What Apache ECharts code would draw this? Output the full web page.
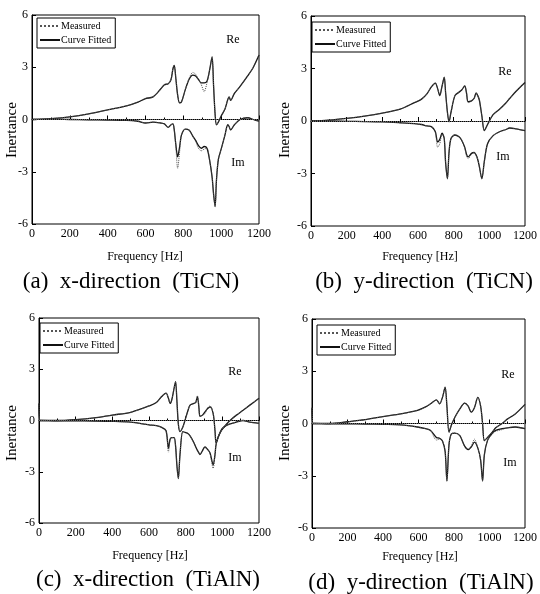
<!DOCTYPE html>
<html>
<head>
<meta charset="utf-8">
<script src="https://cdn.jsdelivr.net/npm/echarts@6/dist/echarts.min.js"></script>
<style>
html,body{margin:0;padding:0;background:#fff;}
#chart{width:540px;height:594px;}
</style>
</head>
<body>
<div id="chart"></div>
<script>
// ---------- Data ----------
const xTicks = [0, 200, 400, 600, 800, 1000, 1200];
const yTicks = [-6, -3, 0, 3, 6];
const panelTitles = ['(a)  x-direction  (TiCN)', '(b)  y-direction  (TiCN)', '(c)  x-direction  (TiAlN)', '(d)  y-direction  (TiAlN)'];

// Panel (a) x-direction TiCN
const freqA   = [0,100,200,300,400,500,560,600,640,680,700,720,735,745,752,760,770,780,790,810,830,850,865,880,895,910,925,940,952,960,968,975,985,1000,1020,1035,1042,1050,1070,1100,1140,1170,1200];
const reFitA  = [0,0.05,0.15,0.32,0.55,0.78,1.0,1.2,1.3,1.75,2.0,2.05,2.3,2.9,3.1,2.4,1.4,0.95,1.0,1.7,2.3,2.55,2.5,2.3,2.1,2.1,2.2,2.9,3.6,1.9,0.3,-0.3,-0.15,0.2,0.6,1.15,1.3,1.1,1.5,1.9,2.5,3.0,3.7];
const reMeasA = [0,0.05,0.15,0.32,0.55,0.78,1.0,1.2,1.3,1.75,2.0,2.05,2.3,2.95,3.1,2.4,1.4,0.95,1.0,1.7,2.35,2.7,2.6,2.3,2.0,1.6,2.1,2.9,3.6,1.9,0.3,-0.3,-0.15,0.2,0.6,1.15,1.3,1.1,1.5,1.9,2.5,3.0,3.7];
const imFitA  = [0,0.02,0,-0.02,-0.03,-0.05,-0.1,-0.2,-0.15,-0.2,-0.25,-0.45,-0.3,-0.25,-0.6,-1.4,-2.15,-1.6,-0.9,-0.55,-0.6,-0.95,-1.2,-1.5,-1.65,-1.55,-1.65,-2.4,-3.3,-4.3,-5.0,-3.5,-2.3,-1.7,-0.9,-0.3,-0.4,-0.6,-0.3,0,0.1,0,-0.1];
const imMeasA = [0,0.02,0,-0.02,-0.03,-0.05,-0.1,-0.2,-0.15,-0.2,-0.25,-0.45,-0.3,-0.25,-0.6,-1.5,-2.8,-1.9,-0.9,-0.55,-0.6,-0.95,-1.25,-1.65,-1.8,-1.7,-1.65,-2.4,-3.3,-4.3,-5.0,-3.5,-2.3,-1.7,-0.9,-0.3,-0.4,-0.6,-0.3,0,0.1,0,-0.1];

// Panel (b) y-direction TiCN
const freqB   = [0,100,200,300,400,500,580,620,650,675,697,710,722,735,747,755,765,774,785,807,830,845,862,872,881,900,915,926,935,944,958,972,990,1020,1060,1090,1115,1150,1200];
const reFitB  = [0,0.05,0.15,0.28,0.45,0.68,1.05,1.25,1.55,1.95,2.17,1.85,1.45,2.0,2.5,1.6,0.5,-0.05,0.5,1.45,1.65,1.77,2.0,1.6,1.1,1.15,1.3,1.6,1.45,1.2,0.3,-0.55,-0.2,0.35,0.7,1.0,1.3,1.7,2.2];
const reMeasB = [0,0.05,0.15,0.28,0.45,0.68,1.05,1.25,1.55,1.95,2.17,1.85,1.45,2.0,2.5,1.6,0.5,-0.05,0.5,1.45,1.65,1.8,2.0,1.6,1.05,1.15,1.3,1.6,1.45,1.2,0.3,-0.55,-0.2,0.35,0.7,1.0,1.3,1.7,2.2];
const imFitB  = [0,0,-0.02,-0.03,-0.05,-0.1,-0.15,-0.2,-0.28,-0.32,-0.6,-1.2,-1.05,-0.7,-1.0,-2.4,-3.3,-1.8,-1.0,-0.8,-0.9,-1.1,-1.5,-1.9,-2.05,-1.85,-1.8,-1.95,-2.2,-2.6,-3.3,-2.3,-1.3,-0.85,-0.6,-0.5,-0.4,-0.45,-0.55];
const imMeasB = [0,0,-0.02,-0.03,-0.05,-0.1,-0.15,-0.2,-0.28,-0.32,-0.65,-1.5,-1.3,-0.75,-1.0,-2.4,-3.3,-1.8,-1.0,-0.8,-0.9,-1.1,-1.55,-2.0,-2.15,-1.9,-1.8,-1.95,-2.2,-2.6,-3.3,-2.3,-1.3,-0.85,-0.6,-0.5,-0.4,-0.45,-0.55];

// Panel (c) x-direction TiAlN
const freqC   = [0,5,100,200,300,400,500,600,640,669,693,706,715,724,737,745,752,760,769,784,796,810,824,845,855,864,872,878,890,905,920,933,950,960,966,980,997,1020,1042,1075,1113,1150,1200];
const reFitC  = [1.0,0,0,0.05,0.15,0.32,0.48,0.85,1.05,1.4,1.6,1.3,1.0,1.2,1.9,2.27,1.2,-0.2,-0.65,-0.4,0,0.5,0.9,1.0,1.05,1.4,0.8,0.25,0.3,0.5,0.7,0.8,0.4,-0.6,-1.3,-0.9,-0.55,-0.25,0,0.3,0.6,0.9,1.3];
const reMeasC = [1.0,0,0,0.05,0.15,0.32,0.48,0.85,1.05,1.4,1.6,1.3,1.0,1.2,1.9,2.27,1.2,-0.2,-0.65,-0.4,0,0.5,0.9,1.0,1.05,1.45,0.8,0.25,0.3,0.4,0.75,0.85,0.4,-0.6,-1.3,-0.9,-0.55,-0.25,0,0.3,0.6,0.9,1.3];
const imFitC  = [0,0,-0.02,-0.02,-0.03,-0.05,-0.1,-0.25,-0.3,-0.4,-0.6,-1.63,-1.1,-1.0,-1.0,-1.5,-2.6,-3.4,-2.0,-0.65,-0.7,-0.75,-0.9,-1.3,-1.55,-1.75,-1.9,-2.0,-1.8,-1.55,-1.7,-1.9,-2.6,-2.0,-1.4,-0.9,-0.5,-0.3,-0.2,-0.1,0,-0.1,-0.17];
const imMeasC = [0,0,-0.02,-0.02,-0.03,-0.05,-0.1,-0.25,-0.3,-0.4,-0.6,-1.85,-1.15,-1.0,-1.0,-1.5,-2.6,-3.4,-2.0,-0.65,-0.7,-0.75,-0.9,-1.3,-1.55,-1.75,-1.9,-2.0,-1.8,-1.55,-1.7,-1.95,-2.8,-2.0,-1.4,-0.9,-0.5,-0.3,-0.2,-0.1,0,-0.1,-0.17];

// Panel (d) y-direction TiAlN
const freqD   = [0,5,100,200,300,400,500,594,640,668,701,719,735,750,760,772,785,805,833,860,880,897,915,934,950,961,971,989,1016,1035,1071,1100,1145,1200];
const reFitD  = [0.9,0,0,0.1,0.22,0.4,0.55,0.75,0.95,1.13,1.36,1.13,1.5,2.08,1.0,-0.5,-0.1,0.36,0.84,1.17,1.0,0.65,0.9,1.5,1.0,0,-0.98,-0.8,-0.5,-0.25,0,0.25,0.55,1.1];
const reMeasD = [0.9,0,0,0.1,0.22,0.4,0.55,0.75,0.95,1.13,1.36,1.13,1.5,2.08,1.0,-0.5,-0.1,0.36,0.84,1.17,1.0,0.65,0.9,1.5,1.0,0,-0.98,-0.8,-0.5,-0.25,0,0.25,0.55,1.1];
const imFitD  = [0,0,-0.02,-0.02,-0.03,-0.05,-0.08,-0.2,-0.3,-0.4,-0.8,-0.85,-1.0,-1.6,-3.3,-1.2,-0.6,-0.55,-0.7,-1.3,-1.5,-1.35,-1.07,-1.4,-2.1,-3.3,-1.8,-0.97,-0.55,-0.4,-0.3,-0.25,-0.2,-0.3];
const imMeasD = [0,0,-0.02,-0.02,-0.03,-0.05,-0.08,-0.2,-0.3,-0.4,-0.95,-0.9,-1.0,-1.6,-3.3,-1.2,-0.6,-0.55,-0.7,-1.3,-1.45,-1.3,-0.9,-1.4,-2.1,-3.3,-1.8,-0.97,-0.6,-0.45,-0.35,-0.25,-0.2,-0.3];

// ---------- Build chart ----------
const panels = [
  {freq: freqA, reFit: reFitA, reMeas: reMeasA, imFit: imFitA, imMeas: imMeasA},
  {freq: freqB, reFit: reFitB, reMeas: reMeasB, imFit: imFitB, imMeas: imMeasB},
  {freq: freqC, reFit: reFitC, reMeas: reMeasC, imFit: imFitC, imMeas: imMeasC},
  {freq: freqD, reFit: reFitD, reMeas: reMeasD, imFit: imFitD, imMeas: imMeasD}
];

const SERIF = '"Liberation Serif","DejaVu Serif",serif';
const grids = [
  {left: 32, top: 15, width: 227, height: 209},
  {left: 311, top: 16, width: 219, height: 210},
  {left: 39, top: 318, width: 220, height: 205},
  {left: 312, top: 319, width: 218, height: 209}
];

const xAxes = [], yAxes = [], series = [], legends = [], graphics = [];
const legendPos = [
  {left: 37, top: 18}, {left: 312, top: 22}, {left: 40, top: 323}, {left: 317, top: 325}
];
const reLbl = [[233, 40], [505, 72], [235, 372], [508, 375]];
const imLbl = [[238, 163], [503, 157], [235, 458], [510, 463]];
const freqLbl = [[145, 257], [420, 257], [150, 556], [420, 557]];
const inerLbl = [[12, 130], [285, 130], [12, 433], [285, 433]];
const titlePos = [[131, 282], [424, 282], [148, 580], [421, 583]];

function pairs(fr, v) { return fr.map((f, i) => [f, v[i]]); }
const plainNum = v => String(v);

panels.forEach((p, g) => {
  xAxes.push({
    gridIndex: g, type: 'value', min: xTicks[0], max: xTicks[xTicks.length - 1], interval: 200,
    axisLine: {lineStyle: {color: '#000', width: 1}},
    axisTick: {inside: true, length: 4, lineStyle: {color: '#000'}},
    minorTick: {show: true, splitNumber: 2, length: 2, lineStyle: {color: '#000'}},
    splitLine: {show: false},
    axisLabel: {color: '#000', fontFamily: SERIF, fontSize: 12, margin: 4, formatter: plainNum}
  });
  yAxes.push({
    gridIndex: g, type: 'value', min: yTicks[0], max: yTicks[yTicks.length - 1], interval: 3,
    axisLine: {lineStyle: {color: '#000', width: 1}},
    axisTick: {inside: true, length: 4, lineStyle: {color: '#000'}},
    splitLine: {show: false},
    axisLabel: {color: '#000', fontFamily: SERIF, fontSize: 12, margin: 4, formatter: plainNum}
  });
  const fitStyle = {color: '#111', width: 1.3, type: 'solid'};
  const measStyle = {color: '#555', width: 1, type: 'dotted'};
  series.push({
    name: 'Curve Fitted', type: 'line', xAxisIndex: g, yAxisIndex: g, symbol: 'none', smooth: 0.3,
    data: pairs(p.freq, p.reFit), lineStyle: fitStyle, itemStyle: {color: '#111'}, z: 2
  });
  series.push({
    name: 'Curve Fitted', type: 'line', xAxisIndex: g, yAxisIndex: g, symbol: 'none', smooth: 0.3,
    data: pairs(p.freq, p.imFit), lineStyle: fitStyle, itemStyle: {color: '#111'}, z: 2
  });
  series.push({
    name: 'Measured', type: 'line', xAxisIndex: g, yAxisIndex: g, symbol: 'none', smooth: 0.3,
    data: pairs(p.freq, p.reMeas), lineStyle: measStyle, itemStyle: {color: '#555'}, z: 3,
    markLine: {
      silent: true, symbol: ['none', 'none'], label: {show: false},
      lineStyle: {color: '#666', type: 'dotted', width: 1},
      data: [{yAxis: 0}]
    }
  });
  series.push({
    name: 'Measured', type: 'line', xAxisIndex: g, yAxisIndex: g, symbol: 'none', smooth: 0.3,
    data: pairs(p.freq, p.imMeas), lineStyle: measStyle, itemStyle: {color: '#555'}, z: 3
  });
  legends.push({
    data: ['Measured', 'Curve Fitted'], orient: 'vertical',
    left: legendPos[g].left, top: legendPos[g].top,
    itemWidth: 20, itemHeight: 6, itemGap: 4,
    padding: [3, 4, 3, 2],
    borderColor: '#000', borderWidth: 1,
    selectedMode: false,
    itemStyle: {opacity: 0, borderWidth: 0},
    textStyle: {fontFamily: SERIF, fontSize: 10, color: '#000', padding: [0, 0, 0, -4]}
  });
  graphics.push({type: 'text', x: reLbl[g][0], y: reLbl[g][1], style: {text: 'Re', font: '12px ' + SERIF, fill: '#000', textAlign: 'center', textVerticalAlign: 'middle'}});
  graphics.push({type: 'text', x: imLbl[g][0], y: imLbl[g][1], style: {text: 'Im', font: '12px ' + SERIF, fill: '#000', textAlign: 'center', textVerticalAlign: 'middle'}});
  graphics.push({type: 'text', x: freqLbl[g][0], y: freqLbl[g][1], style: {text: 'Frequency [Hz]', font: '12px ' + SERIF, fill: '#000', textAlign: 'center', textVerticalAlign: 'middle'}});
  graphics.push({type: 'text', x: inerLbl[g][0], y: inerLbl[g][1], rotation: Math.PI / 2, style: {text: 'Inertance', font: '15px ' + SERIF, fill: '#000', textAlign: 'center', textVerticalAlign: 'middle'}});
  graphics.push({type: 'text', x: titlePos[g][0], y: titlePos[g][1], style: {text: panelTitles[g], font: '23px ' + SERIF, fill: '#000', textAlign: 'center', textVerticalAlign: 'middle'}});
});

const chart = echarts.init(document.getElementById('chart'), null, {renderer: 'canvas'});
chart.setOption({
  animation: false,
  backgroundColor: '#fff',
  grid: grids.map(gr => Object.assign({show: true, borderColor: '#000', borderWidth: 1, backgroundColor: 'transparent'}, gr)),
  xAxis: xAxes,
  yAxis: yAxes,
  legend: legends,
  series: series,
  graphic: graphics
});
</script>
</body>
</html>
